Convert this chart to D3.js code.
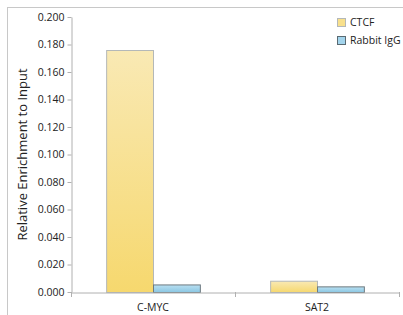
<!DOCTYPE html>
<html>
<head>
<meta charset="utf-8">
<script src="https://cdn.jsdelivr.net/npm/d3@7"></script>
<style>
  body { margin: 0; background: #fff; }
  text { font-family: "Open Sans", "Noto Sans", sans-serif; fill: #222; }
</style>
</head>
<body>
<svg id="chart" width="403" height="315"></svg>
<script>
// chart data
const categories = ["C-MYC", "SAT2"];
const seriesNames = ["CTCF", "Rabbit IgG"];
const ctcfValues = [0.176, 0.0082];
const iggValues = [0.0055, 0.0041];
const yTicks = [0, 0.02, 0.04, 0.06, 0.08, 0.1, 0.12, 0.14, 0.16, 0.18, 0.2];

const svg = d3.select("#chart");
const margin = {left: 71, top: 17, right: 4, bottom: 23};
const width = 403 - margin.left - margin.right,
      height = 315 - margin.top - margin.bottom;

// outer frame (runs off the right / bottom edge like the original)
svg.append("rect")
    .attr("x", 7.5).attr("y", 7.5)
    .attr("width", 410).attr("height", 320)
    .attr("fill", "none").attr("stroke", "#c8c8c8");

const defs = svg.append("defs");
const gradY = defs.append("linearGradient").attr("id", "gradCtcf")
    .attr("x1", 0).attr("y1", 0).attr("x2", 0).attr("y2", 1);
gradY.append("stop").attr("offset", "0%").attr("stop-color", "#f9e9b4");
gradY.append("stop").attr("offset", "100%").attr("stop-color", "#f6d86e");
const gradB = defs.append("linearGradient").attr("id", "gradIgg")
    .attr("x1", 0).attr("y1", 0).attr("x2", 0).attr("y2", 1);
gradB.append("stop").attr("offset", "0%").attr("stop-color", "#b9e0f2");
gradB.append("stop").attr("offset", "100%").attr("stop-color", "#8ac6e2");

const g = svg.append("g")
    .attr("transform", "translate(" + margin.left + "," + margin.top + ")");

const x = d3.scaleBand().domain(categories).range([0, width]).paddingInner(0).paddingOuter(0);
const x1 = d3.scaleBand().domain(seriesNames).range([0, x.bandwidth()]).paddingOuter(0.75).paddingInner(0);
const y = d3.scaleLinear().domain([0, 0.2]).range([height, 0]);

// y axis
const yAxis = g.append("g")
    .attr("transform", "translate(0.5,0)")
    .call(d3.axisLeft(y).tickValues(yTicks).tickFormat(d3.format(".3f")).tickSize(4).tickSizeOuter(0));
yAxis.select(".domain").attr("stroke", "#b0b0b0");
yAxis.selectAll(".tick line").attr("stroke", "#b0b0b0");
yAxis.selectAll(".tick text").attr("x", -7).style("font-size", "10.5px").attr("fill", "#222");

// bars
const rows = categories.map((c, i) => ({cat: c, vals: [ctcfValues[i], iggValues[i]]}));
const grp = g.selectAll(".cat").data(rows).enter().append("g")
    .attr("transform", d => "translate(" + x(d.cat) + ",0)");
grp.selectAll("rect")
    .data(d => d.vals.map((v, k) => ({name: seriesNames[k], v: v})))
    .enter().append("rect")
    .attr("x", d => x1(d.name) + 0.5)
    .attr("y", d => y(d.v) + 0.5)
    .attr("width", x1.bandwidth())
    .attr("height", d => height - y(d.v))
    .attr("fill", d => d.name === "CTCF" ? "url(#gradCtcf)" : "url(#gradIgg)")
    .attr("stroke", d => d.name === "CTCF" ? "#b4b8b8" : "#6e7a80")
    .attr("stroke-width", 1);

// x axis
const xAxis = g.append("g")
    .attr("transform", "translate(0," + (height + 0.5) + ")")
    .call(d3.axisBottom(x).tickSize(0).tickSizeOuter(0));
xAxis.select(".domain").attr("stroke", "#b0b0b0");
xAxis.selectAll(".tick text").attr("dy", "1.5em").style("font-size", "10.5px").attr("fill", "#222");
// category boundary ticks
g.append("g").selectAll("line")
    .data(categories.concat(["end"]))
    .enter().append("line")
    .attr("x1", (d, i) => Math.round(i * x.bandwidth()) + 0.5)
    .attr("x2", (d, i) => Math.round(i * x.bandwidth()) + 0.5)
    .attr("y1", height).attr("y2", height + 5)
    .attr("stroke", "#b0b0b0");

// y title
svg.append("text")
    .attr("transform", "translate(27," + (margin.top + height / 2) + ") rotate(-90)")
    .attr("text-anchor", "middle")
    .style("font-size", "13px")
    .text("Relative Enrichment to Input");

// legend
const legend = svg.append("g").attr("transform", "translate(337,18)");
const li = legend.selectAll("g").data(seriesNames).enter().append("g")
    .attr("transform", (d, i) => "translate(0," + i * 18 + ")");
li.append("rect")
    .attr("x", 0.5).attr("y", 0.5).attr("width", 8).attr("height", 8)
    .attr("fill", (d, i) => i === 0 ? "#f8e08c" : "#a3d4ec")
    .attr("stroke", (d, i) => i === 0 ? "#b4b8b8" : "#5a6a72");
li.append("text")
    .attr("x", 13).attr("y", 4.5).attr("dy", "0.35em")
    .style("font-size", "10.5px")
    .text(d => d);
</script>
</body>
</html>
